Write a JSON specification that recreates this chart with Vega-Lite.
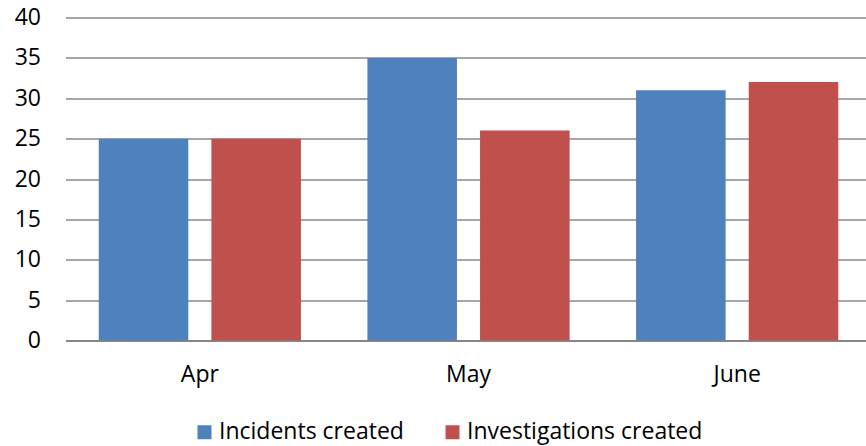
{
  "$schema": "https://vega.github.io/schema/vega-lite/v6.json",
  "width": 806,
  "height": 323,
  "autosize": "none",
  "padding": {"left": 65.5, "top": 17.5, "right": 0, "bottom": 105.5},
  "background": "white",
  "config": {
    "font": "Open Sans",
    "view": {"stroke": null},
    "axis": {"labelFont": "Open Sans", "labelColor": "#000000", "labelFontSize": 23}
  },
  "data": {
    "values": [
      {"month": "Apr", "series": "Incidents created", "count": 25},
      {"month": "Apr", "series": "Investigations created", "count": 25},
      {"month": "May", "series": "Incidents created", "count": 35},
      {"month": "May", "series": "Investigations created", "count": 26},
      {"month": "June", "series": "Incidents created", "count": 31},
      {"month": "June", "series": "Investigations created", "count": 32}
    ]
  },
  "mark": {"type": "bar"},
  "encoding": {
    "x": {
      "field": "month",
      "type": "nominal",
      "sort": ["Apr", "May", "June"],
      "scale": {"paddingInner": 0, "paddingOuter": 0},
      "axis": {
        "title": null,
        "labelAngle": 0,
        "ticks": false,
        "domainColor": "#868686",
        "domainWidth": 2,
        "labelPadding": 23
      }
    },
    "xOffset": {
      "field": "series",
      "type": "nominal",
      "sort": ["Incidents created", "Investigations created"],
      "scale": {"paddingInner": 0.205, "paddingOuter": 0.295}
    },
    "y": {
      "field": "count",
      "type": "quantitative",
      "scale": {"domain": [0, 40]},
      "axis": {
        "title": null,
        "values": [0, 5, 10, 15, 20, 25, 30, 35, 40],
        "domain": false,
        "ticks": false,
        "gridColor": "#8a8a8a",
        "gridWidth": 1.5,
        "labelPadding": 25
      }
    },
    "color": {
      "field": "series",
      "type": "nominal",
      "sort": ["Incidents created", "Investigations created"],
      "scale": {"range": ["#4F81BD", "#C0504D"]},
      "legend": {
        "title": null,
        "orient": "none",
        "direction": "horizontal",
        "legendX": 127.5,
        "legendY": 403,
        "padding": 0,
        "symbolType": "square",
        "symbolSize": 196,
        "symbolStrokeWidth": 0,
        "symbolOpacity": 1,
        "labelFontSize": 23,
        "labelLimit": 0,
        "labelColor": "#000000",
        "labelOffset": 3,
        "columnPadding": 37
      }
    }
  }
}
